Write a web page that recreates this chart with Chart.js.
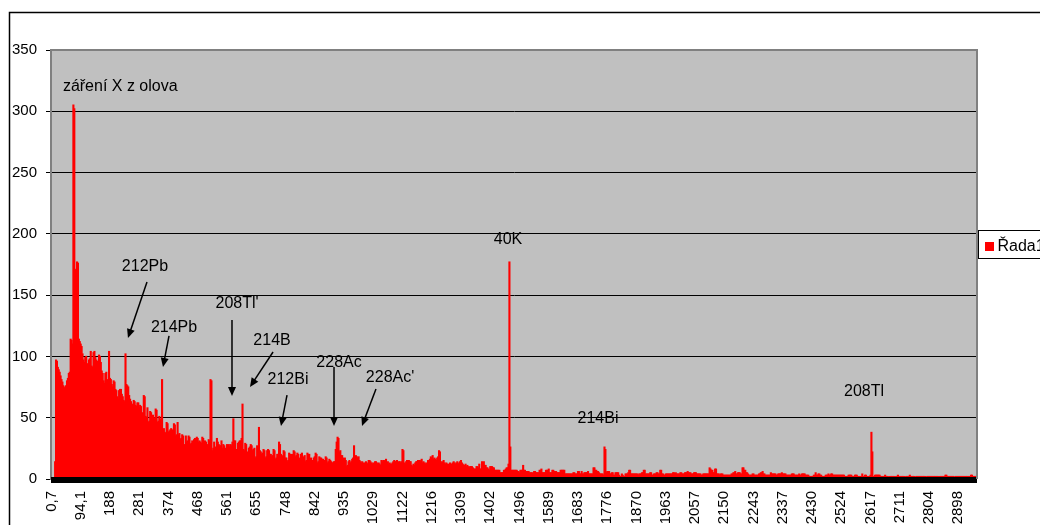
<!DOCTYPE html>
<html>
<head>
<meta charset="utf-8">
<script src="https://cdn.jsdelivr.net/npm/chart.js@4.4.1/dist/chart.umd.min.js"></script>
<style>
	html, body { margin: 0; padding: 0; background: #fff; }
	#wrap { width: 1040px; height: 525px; }
</style>
</head>
<body>
<div id="wrap"><canvas id="spektrum" width="1040" height="525"></canvas></div>
<script>
	// counts per channel (approx. 2.92 keV / channel)
	var counts = [
		0,0,0,0,14,97,96,91,89,87, 84,81,79,76,74,75,76,80,82,86,
		87,114,113,110,305,302,170,171,177,176, 114,112,110,108,102,97,95,99,100,94,
		93,97,98,104,92,91,103,104,99,97, 96,94,101,100,95,88,86,80,78,86,
		87,81,79,104,82,81,77,75,80,79, 73,72,67,65,72,73,73,69,67,64,
		63,102,77,76,75,68,65,63,61,60, 64,63,60,59,62,62,58,60,59,54,
		53,68,67,51,50,58,46,47,55,54, 51,52,50,49,57,56,46,47,51,49,
		48,81,40,41,38,37,46,45,38,39, 40,41,40,39,45,44,35,36,46,36,
		37,32,33,36,35,27,28,35,30,31, 35,34,28,29,31,30,32,33,28,34,
		33,30,31,30,29,34,33,30,31,30, 27,28,32,31,81,80,23,25,30,24,
		26,33,30,28,27,27,31,25,28,27, 23,25,28,27,28,26,28,27,30,49,
		31,31,24,23,29,30,31,31,33,61, 24,23,29,28,21,22,25,26,28,27,
		23,24,25,17,18,27,26,42,23,22, 20,21,24,23,17,18,23,24,23,20,
		20,18,19,24,23,16,17,20,20,30, 28,20,19,18,23,22,17,17,14,15,
		21,20,20,19,20,23,22,18,19,21, 20,16,17,20,21,17,18,19,14,15,
		21,20,20,16,17,14,15,17,18,21, 20,13,14,18,17,17,16,16,14,15,
		18,17,13,14,16,15,14,13,13,14, 14,24,30,34,33,22,23,19,19,17,
		16,17,15,10,11,14,15,13,14,16, 17,27,18,19,18,17,18,15,14,13,
		14,13,12,13,14,13,12,15,15,14, 13,12,13,12,14,14,13,12,13,12,
		11,15,14,15,14,15,16,13,14,12, 13,12,12,13,14,15,14,14,15,13,
		14,14,13,14,24,23,13,12,14,15, 14,15,14,14,11,10,12,11,13,14,
		14,15,14,15,14,16,13,14,13,12, 13,12,15,14,16,18,17,19,16,17,
		16,15,17,18,23,22,14,13,14,15, 13,12,13,12,12,11,13,12,12,13,
		14,13,12,13,14,12,13,14,15,13, 12,11,11,12,10,11,10,9,10,10,
		10,9,8,8,8,10,10,9,12,8, 8,14,13,14,11,11,9,9,8,7,
		10,10,10,9,9,7,7,7,7,7, 7,5,5,5,5,7,7,8,9,9,
		12,177,26,7,7,7,7,7,7,7, 6,6,5,7,7,7,11,7,7,6,
		6,6,6,5,5,5,5,4,6,6, 5,5,5,5,7,7,8,5,5,5,
		5,7,7,7,8,5,5,5,7,7, 6,6,6,5,5,5,5,7,7,7,
		7,7,4,4,4,4,4,4,4,4, 4,5,5,4,4,4,6,6,4,4,
		6,4,4,5,5,5,5,6,4,4, 4,4,4,9,9,7,7,6,6,5,
		4,4,4,4,3,26,24,5,6,6, 6,4,4,5,5,3,3,5,5,5,
		5,3,2,2,4,3,2,2,4,4, 4,5,7,7,4,4,4,4,4,4,
		4,4,3,4,4,4,5,5,7,7, 4,4,4,4,4,5,5,3,3,4,
		4,4,5,5,4,4,7,7,4,4, 3,3,4,4,4,4,4,4,4,4,
		5,5,4,5,4,4,4,4,5,5, 4,4,4,5,5,5,6,5,5,5,
		4,4,4,5,5,5,4,4,4,4, 4,3,3,4,4,4,4,4,4,4,
		9,8,7,7,5,5,8,8,4,4, 4,3,4,4,4,3,3,3,3,3,
		3,3,3,3,4,4,5,5,6,4, 4,5,5,5,4,4,9,9,7,7,
		5,5,4,3,3,3,3,4,4,3, 3,3,3,3,4,4,5,5,6,4,
		4,3,3,3,3,3,3,5,4,4, 4,4,4,3,3,4,4,4,4,5,
		4,4,4,4,3,3,3,3,3,3, 4,4,4,3,3,3,3,3,4,3,
		3,4,4,4,4,3,3,3,3,2, 2,2,2,2,3,3,5,3,3,4,
		4,3,3,2,2,2,2,3,3,3, 4,3,3,4,4,3,3,3,3,3,
		3,3,3,3,3,3,3,3,2,2, 2,2,3,3,3,3,2,2,2,3,
		3,3,2,2,2,2,2,4,2,2, 3,3,2,2,2,2,3,38,22,2,
		2,3,3,3,3,3,3,2,2,2, 2,2,3,2,2,2,1,2,2,2,
		2,2,2,1,2,2,3,2,2,2, 2,2,2,2,1,2,2,2,2,3,
		2,2,2,2,2,1,2,2,2,2, 2,2,2,2,2,2,2,1,2,2,
		2,2,2,2,2,2,2,2,2,2, 2,1,2,2,2,2,2,2,3,3,
		2,2,2,2,2,2,2,2,1,2, 2,2,2,2,2,2,2,2,2,2,
		2,2,2,2,2,2,3,3,2,2, 2,2,2
	];

	// energy labels shown on every 32nd channel
	var tickLabels = ['0,7','94,1','188','281','374','468','561','655','748','842','935',
		'1029','1122','1216','1309','1402','1496','1589','1683','1776','1870','1963',
		'2057','2150','2243','2337','2430','2524','2617','2711','2804','2898'];
	var LABEL_STEP = 32;
	var seriesName = 'Řada1';

	// text notes in data units: [channel, count]
	var notes = [
		{text: 'záření X z olova', at: [12.5, 319.8], align: 'left'},
		{text: '212Pb', at: [102.3, 173], from: [104.5, 160.7], to: [83.7, 115]},
		{text: '214Pb', at: [134.1, 123.2], from: [128.6, 116.7], to: [122, 91.4]},
		{text: "208Tl'", at: [203, 142.8], from: [197.5, 129.7], to: [197.5, 67.7]},
		{text: '214B', at: [241.3, 112.6], from: [242.4, 103.6], to: [217.2, 75.1]},
		{text: '212Bi', at: [258.8, 80.8], from: [257.7, 68.5], to: [251.1, 43.2]},
		{text: '228Ac', at: [314.6, 94.6], from: [309.1, 91.4], to: [309.1, 43.2]},
		{text: "228Ac'", at: [370.4, 82.4], from: [355, 73.4], to: [339.7, 43.2]},
		{text: '40K', at: [499.5, 195]},
		{text: '214Bi', at: [597.9, 49]},
		{text: '208Tl', at: [888.9, 71]}
	];

	var FONT = "'Liberation Sans', Arial, sans-serif";
	var channels = counts.map(function(v, i){ return i; });

	function arrow(ctx, x1, y1, x2, y2){
		var a = Math.atan2(y2 - y1, x2 - x1), len = 9, w = 4;
		ctx.beginPath();
		ctx.moveTo(x1, y1);
		ctx.lineTo(x2 - Math.cos(a) * len * 0.8, y2 - Math.sin(a) * len * 0.8);
		ctx.stroke();
		ctx.beginPath();
		ctx.moveTo(x2, y2);
		ctx.lineTo(x2 - Math.cos(a) * len - Math.sin(a) * w, y2 - Math.sin(a) * len + Math.cos(a) * w);
		ctx.lineTo(x2 - Math.cos(a) * len + Math.sin(a) * w, y2 - Math.sin(a) * len - Math.cos(a) * w);
		ctx.closePath();
		ctx.fill();
	}

	var decor = {
		id: 'decor',
		beforeDraw: function(chart){
			var ctx = chart.ctx, a = chart.chartArea;
			ctx.save();
			ctx.fillStyle = '#fff';
			ctx.fillRect(0, 0, chart.width, chart.height);
			ctx.strokeStyle = '#000';
			ctx.lineWidth = 1.5;
			ctx.strokeRect(9.5, 12.5, chart.width + 20, chart.height + 20);
			ctx.fillStyle = '#C0C0C0';
			ctx.fillRect(a.left, a.top, a.right - a.left, a.bottom - a.top);
			ctx.restore();
		},
		afterDatasetsDraw: function(chart){
			var ctx = chart.ctx, a = chart.chartArea;
			ctx.save();
			ctx.fillStyle = '#000';
			ctx.fillRect(a.left, a.bottom - 2, a.right - a.left, 6);
			ctx.strokeStyle = '#808080';
			ctx.lineWidth = 2;
			ctx.beginPath();
			ctx.moveTo(a.left, a.top);
			ctx.lineTo(a.right, a.top);
			ctx.lineTo(a.right, a.bottom);
			ctx.stroke();
			ctx.restore();
		},
		afterDraw: function(chart){
			var ctx = chart.ctx, xs = chart.scales.x, ys = chart.scales.y;
			function px(p){ return [xs.getPixelForValue(p[0]), ys.getPixelForValue(p[1])]; }
			ctx.save();
			ctx.fillStyle = '#000';
			ctx.strokeStyle = '#000';
			ctx.lineWidth = 1.5;
			ctx.textBaseline = 'middle';
			notes.forEach(function(n){
				var t = px(n.at);
				ctx.font = '16px ' + FONT;
				ctx.textAlign = n.align || 'center';
				ctx.fillText(n.text, t[0], t[1]);
				if (n.from){
					var f = px(n.from), e = px(n.to);
					arrow(ctx, f[0], f[1], e[0], e[1]);
				}
			});

			// legend box, cut off by the right edge like the original
			var lx = chart.chartArea.right + 1.5, ly = 230.5;
			ctx.lineWidth = 1;
			ctx.strokeRect(lx, ly, 120, 28);
			ctx.fillStyle = '#FF0000';
			ctx.fillRect(lx + 6.5, ly + 11.5, 9, 9);
			ctx.fillStyle = '#000';
			ctx.textAlign = 'left';
			ctx.font = '16px ' + FONT;
			ctx.fillText(seriesName, lx + 19, ly + 16);
			ctx.restore();
		}
	};

	var chart = new Chart(document.getElementById('spektrum'), {
		type: 'bar',
		data: {
			labels: channels,
			datasets: [{
				label: seriesName,
				data: counts,
				backgroundColor: '#FF0000',
				borderWidth: 0,
				inflateAmount: 0.6,
				barPercentage: 1,
				categoryPercentage: 1
			}]
		},
		options: {
			responsive: false,
			animation: false,
			layout: { padding: { top: 50, right: 63, left: 0, bottom: 0 } },
			plugins: {
				legend: { display: false },
				tooltip: { enabled: false },
				title: { display: false }
			},
			scales: {
				x: {
					grid: { display: false },
					border: { display: false },
					ticks: {
						autoSkip: false,
						minRotation: 90,
						maxRotation: 90,
						padding: 4,
						color: '#000',
						font: { family: FONT, size: 15 },
						callback: function(v, i){
							return i % LABEL_STEP === 0 ? tickLabels[i / LABEL_STEP] : '';
						}
					},
					afterFit: function(s){ s.height = 46; }
				},
				y: {
					min: 0,
					max: 350,
					ticks: {
						stepSize: 50,
						padding: 9,
						color: '#000',
						font: { family: FONT, size: 15 }
					},
					grid: {
						color: '#000',
						lineWidth: 1,
						tickLength: 5,
						tickColor: '#000'
					},
					border: { color: '#808080', width: 2 },
					afterFit: function(s){ s.width = 51; }
				}
			}
		},
		plugins: [decor]
	});
</script>
</body>
</html>
